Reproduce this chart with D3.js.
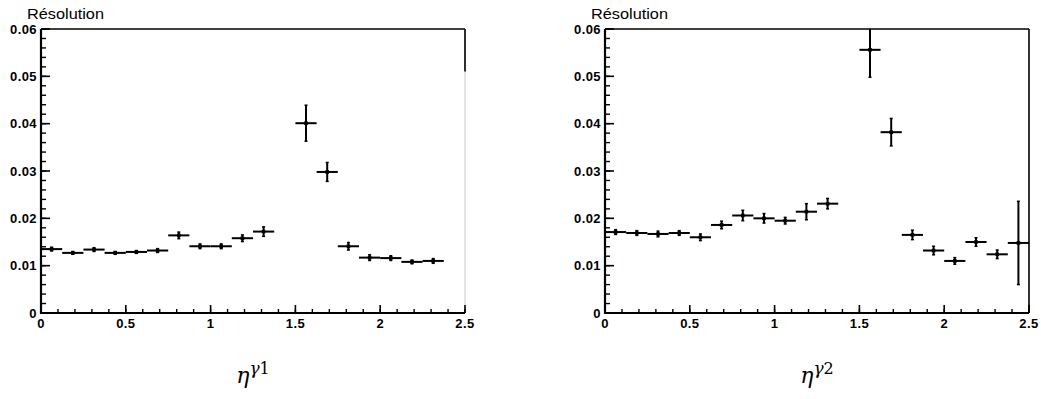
<!DOCTYPE html>
<html>
<head>
<meta charset="utf-8">
<script src="https://cdn.jsdelivr.net/npm/d3@7"></script>
<style>
  html, body { margin: 0; padding: 0; background: #fff; }
  svg { display: block; }
</style>
</head>
<body>
<svg id="chart" width="1041" height="399"></svg>
<script>
// ---------- DATA ----------
const etaCenters = [0.0625, 0.1875, 0.3125, 0.4375, 0.5625, 0.6875, 0.8125, 0.9375, 1.0625, 1.1875,
                    1.3125, 1.4375, 1.5625, 1.6875, 1.8125, 1.9375, 2.0625, 2.1875, 2.3125, 2.4375];
const binHalfWidth = 0.0625;

const res1 = [0.0135, 0.0127, 0.0134, 0.0127, 0.0129, 0.0132, 0.0164, 0.0141, 0.0141, 0.0158,
              0.0172, null, 0.0401, 0.0298, 0.0141, 0.0117, 0.0116, 0.0108, 0.0110, null];
const err1 = [0.0004, 0.0003, 0.0004, 0.0003, 0.0003, 0.0004, 0.0007, 0.0005, 0.0005, 0.0007,
              0.0010, null, 0.0038, 0.0020, 0.0008, 0.0006, 0.0005, 0.0004, 0.0005, null];

const res2 = [0.0171, 0.0169, 0.0167, 0.0169, 0.0160, 0.0186, 0.0206, 0.0200, 0.0195, 0.0214,
              0.0231, null, 0.0556, 0.0382, 0.0165, 0.0132, 0.0110, 0.0150, 0.0124, 0.0148];
const err2 = [0.0005, 0.0005, 0.0006, 0.0005, 0.0007, 0.0008, 0.0011, 0.0010, 0.0007, 0.0017,
              0.0011, null, 0.0058, 0.0029, 0.0010, 0.0009, 0.0007, 0.0009, 0.0009, 0.0088];

const yTickValues = [0, 0.01, 0.02, 0.03, 0.04, 0.05, 0.06];
const yTickLabels = ["0", "0.01", "0.02", "0.03", "0.04", "0.05", "0.06"];
const xTickValues = [0, 0.5, 1, 1.5, 2, 2.5];
const xTickLabels = ["0", "0.5", "1", "1.5", "2", "2.5"];
const yTitle = "Résolution";
const xTitleBase = "η";
const xTitleSup = ["γ1", "γ2"];

// ---------- LAYOUT ----------
const svg = d3.select("#chart");
const panels = [
  { left: 41, right: 465, top: 29, bottom: 313, res: res1, err: err1, sup: xTitleSup[0], greyRight: true },
  { left: 605, right: 1029, top: 29, bottom: 313, res: res2, err: err2, sup: xTitleSup[1], greyRight: false }
];

const labelFont = "'Liberation Sans', Arial, Helvetica, sans-serif";

panels.forEach((p, idx) => {
  const x = d3.scaleLinear().domain([0, 2.5]).range([p.left, p.right]);
  const y = d3.scaleLinear().domain([0, 0.06]).range([p.bottom, p.top]);
  const g = svg.append("g");

  const clipId = "clip" + idx;
  svg.append("defs").append("clipPath").attr("id", clipId)
    .append("rect").attr("x", p.left).attr("y", p.top)
    .attr("width", p.right - p.left).attr("height", p.bottom - p.top);

  // frame: top & right
  g.append("line").attr("x1", p.left).attr("x2", p.right).attr("y1", p.top).attr("y2", p.top)
    .attr("stroke", "#000").attr("stroke-width", 1.6);
  if (p.greyRight) {
    g.append("line").attr("x1", p.right).attr("x2", p.right).attr("y1", p.top).attr("y2", p.bottom)
      .attr("stroke", "#c8c8c8").attr("stroke-width", 1);
    g.append("line").attr("x1", p.right).attr("x2", p.right).attr("y1", p.top).attr("y2", y(0.051))
      .attr("stroke", "#000").attr("stroke-width", 1.6);
  } else {
    g.append("line").attr("x1", p.right).attr("x2", p.right).attr("y1", p.top).attr("y2", p.bottom)
      .attr("stroke", "#000").attr("stroke-width", 1.6);
  }

  // Y axis (ticks inward)
  const yMinor = d3.range(0, 0.0601, 0.002);
  g.selectAll(".ymin").data(yMinor).enter().append("line")
    .attr("x1", p.left).attr("x2", p.left + 5)
    .attr("y1", d => y(d)).attr("y2", d => y(d))
    .attr("stroke", "#000").attr("stroke-width", 1.4);
  g.selectAll(".ymaj").data(yTickValues).enter().append("line")
    .attr("x1", p.left).attr("x2", p.left + 9)
    .attr("y1", d => y(d)).attr("y2", d => y(d))
    .attr("stroke", "#000").attr("stroke-width", 1.6);
  g.selectAll(".ylab").data(yTickValues).enter().append("text")
    .attr("x", p.left - 4).attr("y", d => y(d) + 4.5)
    .attr("text-anchor", "end")
    .attr("font-family", labelFont).attr("font-weight", "bold").attr("font-size", 13)
    .attr("letter-spacing", 0.4)
    .text((d, i) => yTickLabels[i]);

  // X axis (ticks inward)
  const xMinor = d3.range(0, 2.501, 0.1);
  g.selectAll(".xmin").data(xMinor).enter().append("line")
    .attr("x1", d => x(d)).attr("x2", d => x(d))
    .attr("y1", p.bottom).attr("y2", p.bottom - 4)
    .attr("stroke", "#000").attr("stroke-width", 1.4);
  g.selectAll(".xmaj").data(xTickValues).enter().append("line")
    .attr("x1", d => x(d)).attr("x2", d => x(d))
    .attr("y1", p.bottom).attr("y2", p.bottom - 8)
    .attr("stroke", "#000").attr("stroke-width", 1.6);
  g.selectAll(".xlab").data(xTickValues).enter().append("text")
    .attr("x", d => x(d)).attr("y", p.bottom + 15)
    .attr("text-anchor", "middle")
    .attr("font-family", labelFont).attr("font-weight", "bold").attr("font-size", 13)
    .attr("letter-spacing", 0.4)
    .text((d, i) => xTickLabels[i]);

  // axis lines
  g.append("line").attr("x1", p.left).attr("x2", p.left).attr("y1", p.top).attr("y2", p.bottom + 1)
    .attr("stroke", "#000").attr("stroke-width", 2.2);
  g.append("line").attr("x1", p.left - 1).attr("x2", p.right).attr("y1", p.bottom).attr("y2", p.bottom)
    .attr("stroke", "#000").attr("stroke-width", 2.2);

  // Y title
  g.append("text").attr("x", p.left - 14).attr("y", 19)
    .attr("font-family", labelFont).attr("font-size", 15)
    .attr("textLength", 77).attr("lengthAdjust", "spacingAndGlyphs")
    .text(yTitle);

  // X title
  const xt = g.append("text").attr("x", (p.left + p.right) / 2).attr("y", 383)
    .attr("text-anchor", "middle")
    .attr("font-family", "'DejaVu Serif', 'Liberation Serif', serif");
  xt.append("tspan").attr("font-style", "italic").attr("font-size", 22).text(xTitleBase);
  xt.append("tspan").attr("font-style", "italic").attr("font-size", 17).attr("dy", -9).text(p.sup[0]);
  xt.append("tspan").attr("font-size", 16).text(p.sup.slice(1));

  // data points with error bars
  const pts = etaCenters.map((c, i) => ({ c, v: p.res[i], e: p.err[i] })).filter(d => d.v !== null);
  const dg = g.append("g").attr("clip-path", `url(#${clipId})`)
    .attr("stroke", "#000").attr("stroke-width", 2);

  dg.selectAll(".hb").data(pts).enter().append("line")
    .attr("x1", d => x(d.c - binHalfWidth)).attr("x2", d => x(d.c + binHalfWidth))
    .attr("y1", d => y(d.v)).attr("y2", d => y(d.v));
  dg.selectAll(".vb").data(pts).enter().append("line")
    .attr("x1", d => x(d.c)).attr("x2", d => x(d.c))
    .attr("y1", d => y(d.v - d.e)).attr("y2", d => y(d.v + d.e));
  dg.selectAll(".vc1").data(pts).enter().append("line")
    .attr("x1", d => x(d.c) - 1.5).attr("x2", d => x(d.c) + 1.5)
    .attr("y1", d => y(d.v + d.e)).attr("y2", d => y(d.v + d.e)).attr("stroke-width", 1.5);
  dg.selectAll(".vc2").data(pts).enter().append("line")
    .attr("x1", d => x(d.c) - 1.5).attr("x2", d => x(d.c) + 1.5)
    .attr("y1", d => y(d.v - d.e)).attr("y2", d => y(d.v - d.e)).attr("stroke-width", 1.5);
  dg.selectAll(".mk").data(pts).enter().append("rect")
    .attr("x", d => x(d.c) - 1.8).attr("y", d => y(d.v) - 1.8)
    .attr("width", 3.6).attr("height", 3.6).attr("stroke", "none").attr("fill", "#000");
});
</script>
</body>
</html>
